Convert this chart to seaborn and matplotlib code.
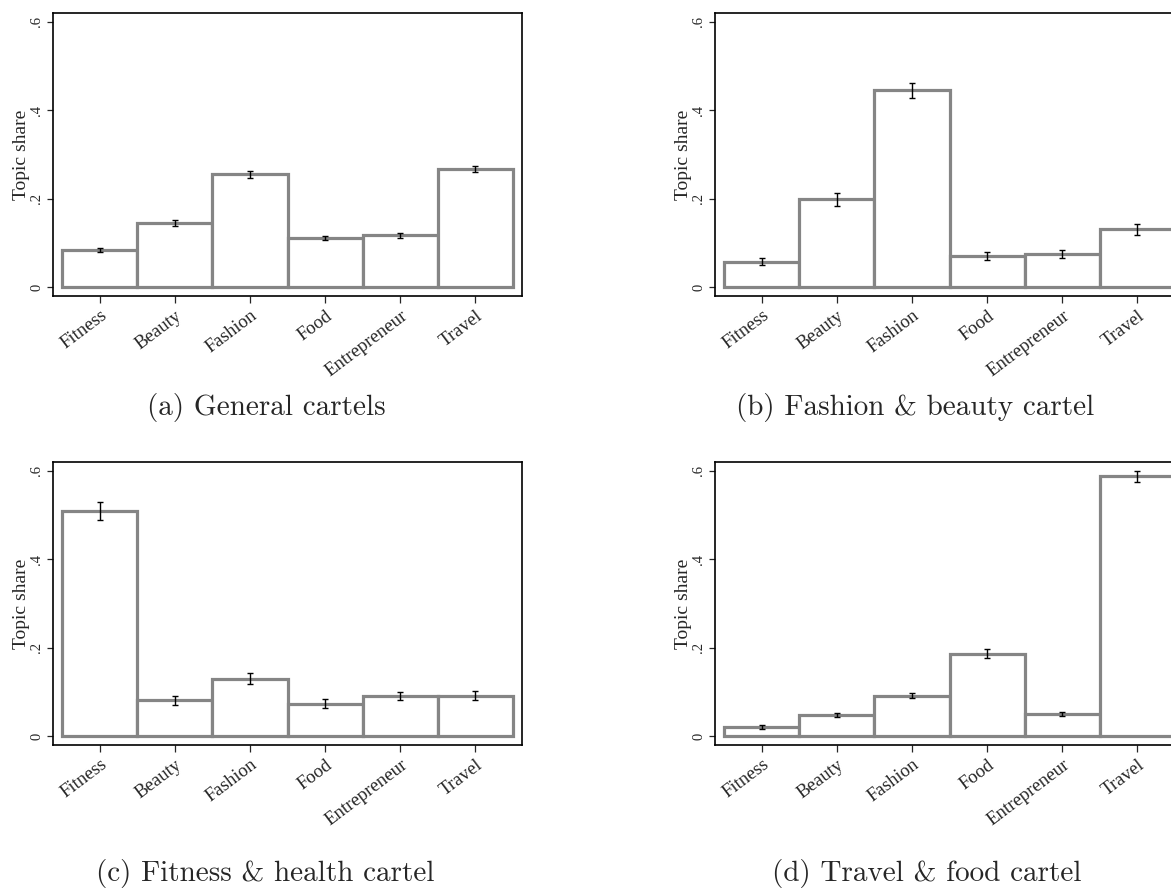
import numpy as np
import pandas as pd
import matplotlib
matplotlib.use("Agg")
import matplotlib.pyplot as plt
import seaborn as sns

# Topic categories (x axis)
topics = ["Fitness", "Beauty", "Fashion", "Food", "Entrepreneur", "Travel"]

# Mean topic share per cartel type
general_share = [0.084, 0.145, 0.255, 0.111, 0.117, 0.268]
general_err = [0.005, 0.006, 0.007, 0.005, 0.006, 0.007]

fashion_share = [0.058, 0.199, 0.445, 0.071, 0.075, 0.131]
fashion_err = [0.008, 0.015, 0.017, 0.009, 0.009, 0.013]

fitness_share = [0.509, 0.081, 0.130, 0.074, 0.091, 0.092]
fitness_err = [0.021, 0.011, 0.013, 0.010, 0.010, 0.011]

travel_share = [0.021, 0.048, 0.092, 0.187, 0.050, 0.587]
travel_err = [0.004, 0.005, 0.006, 0.011, 0.005, 0.013]

captions = ["(a) General cartels", "(b) Fashion & beauty cartel",
            "(c) Fitness & health cartel", "(d) Travel & food cartel"]

sns.set_style("white")
plt.rcParams["font.family"] = ["Liberation Serif", "DejaVu Serif"]

W, H = 1171, 890
fig = plt.figure(figsize=(W / 100, H / 100), dpi=100)

# axes boxes in pixels: (left, top, right, bottom)
boxes = [(53, 13.3, 522, 296), (715, 13.3, 1184, 296),
         (53, 462.3, 522, 745), (715, 462.3, 1184, 745)]
panels = [(general_share, general_err), (fashion_share, fashion_err),
          (fitness_share, fitness_err), (travel_share, travel_err)]
cap_pos = [(266, 408), (915, 408), (265, 874), (927, 874)]

for (l, t, r, b), (share, err), cap, (cx, cy) in zip(boxes, panels, captions, cap_pos):
    ax = fig.add_axes([l / W, 1 - b / H, (r - l) / W, (b - t) / H])
    df = pd.DataFrame({"topic": topics, "share": share})
    sns.barplot(data=df, x="topic", y="share", ax=ax, width=1.0,
                color="white", edgecolor="#858585", linewidth=2.3,
                errorbar=None, saturation=1)
    ax.errorbar(np.arange(len(topics)), share, yerr=err, fmt="none",
                ecolor="black", elinewidth=1.0, capsize=2.3, capthick=1.0, zorder=5)
    ax.set_xlim(-0.62, 5.62)
    ax.set_ylim(-0.0197, 0.619)
    ax.set_yticks([0, 0.2, 0.4, 0.6])
    ax.set_yticklabels(["0", ".2", ".4", ".6"], rotation=90, va="center", fontsize=10.5)
    ax.set_xticks(range(len(topics)))
    ax.set_xticklabels(topics, rotation=37, ha="right", rotation_mode="anchor", fontsize=13.5)
    ax.tick_params(axis="y", length=4, width=0.9, pad=3, direction="out", left=True)
    ax.tick_params(axis="x", length=5, width=0.9, pad=3, direction="out", bottom=True)
    ax.set_xlabel("")
    ax.set_ylabel("Topic share", fontsize=14, labelpad=0)
    for s in ax.spines.values():
        s.set_color("black")
        s.set_linewidth(1.2)
    fig.text(cx / W, 1 - cy / H, cap, family="cmr10", fontsize=21,
             ha="center", va="center")

fig.savefig("out.png", dpi=100)
